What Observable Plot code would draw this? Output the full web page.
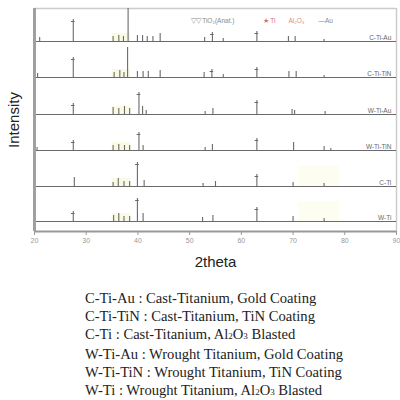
<!DOCTYPE html>
<html>
<head>
<meta charset="utf-8">
<script src="https://cdn.jsdelivr.net/npm/d3@7"></script>
<script src="https://cdn.jsdelivr.net/npm/@observablehq/plot@0.6"></script>
<style>
  body { margin: 0; background: #fff; }
  #chart { width: 400px; }
  #caption { font-family: "Liberation Serif", "DejaVu Serif", serif; font-size: 14.6px; line-height: 18px; color: #222; padding-left: 85px; margin-top: 14px; }
  #caption .s { font-size: 9px; }
</style>
</head>
<body>
<div id="chart"></div>
<div id="caption">
  <div>C-Ti-Au : Cast-Titanium, Gold Coating</div>
  <div>C-Ti-TiN : Cast-Titanium, TiN Coating</div>
  <div>C-Ti : Cast-Titanium, Al<span class="s">2</span>O<span class="s">3</span> Blasted</div>
  <div>W-Ti-Au : Wrought Titanium, Gold Coating</div>
  <div>W-Ti-TiN : Wrought Titanium, TiN Coating</div>
  <div>W-Ti : Wrought Titanium, Al<span class="s">2</span>O<span class="s">3</span> Blasted</div>
</div>
<script>
// Patterns, top to bottom
const series = ["C-Ti-Au", "C-Ti-TiN", "W-Ti-Au", "W-Ti-TiN", "C-Ti", "W-Ti"];
const offsets = [190, 154, 117, 81, 45, 10];
const xTicks = [20, 30, 40, 50, 60, 70, 80, 90];
// peaks: [2theta, intensity, marked]
const peaks0 = [[21.0,4],[27.5,22,1],[35.2,5],[36.3,6],[37.2,5],[38.1,33],[39.9,6],[40.9,6],[41.8,5],[42.9,5],[44.3,8],[52.9,4],[54.4,9,1],[56.5,3],[63.0,10,1],[69.1,5],[70.4,5],[76.0,2]];
const peaks1 = [[20.6,4],[27.5,20,1],[35.4,5],[36.5,7],[37.3,5],[38.0,30],[39.9,6],[41.0,6],[42.0,6],[44.3,7],[52.8,5],[54.3,8,1],[56.5,3],[63.0,10,1],[69.2,6],[70.6,6],[76.0,2]];
const peaks2 = [[27.5,11,1],[35.2,7],[36.3,6],[37.4,8],[38.4,6],[40.2,22,1],[40.9,8],[41.6,4],[53.0,3],[54.5,6],[63.0,14,1],[69.8,5],[70.3,4],[76.2,3]];
const peaks3 = [[20.5,3],[27.5,10,1],[35.2,5],[36.3,6],[37.4,5],[38.4,5],[40.2,18,1],[41.0,5],[53.0,3],[54.4,6],[63.0,12,1],[70.1,8],[76.0,4],[77.3,2]];
const peaks4 = [[27.7,9],[35.2,4],[36.2,8],[37.3,5],[38.4,5],[39.9,24,1],[41.2,6],[52.6,3],[55.0,5],[63.0,12,1],[70.0,4],[76.0,3]];
const peaks5 = [[27.5,10,1],[35.3,6],[36.3,8],[37.3,5],[38.4,5],[39.9,23,1],[41.0,8],[52.5,4],[54.5,6],[63.0,14,1],[70.0,5],[76.0,3]];
const allPeaks = [peaks0, peaks1, peaks2, peaks3, peaks4, peaks5];
const legendItems = ["▽▽ TiO₂(Anat.)", "★ Ti", "Al₂O₃", "—Au"];
const legendColors = ["#8a8a8a", "#d07070", "#e09070", "#8a8a8a"];
const legendDx = [156, 228, 254, 284];

const rows = [];
allPeaks.forEach((ps, i) => ps.forEach(([x, h, m]) => rows.push({s: series[i], x, base: offsets[i], top: offsets[i] + h, m: !!m})));
const bases = series.map((s, i) => ({s, base: offsets[i]}));
const marked = rows.filter(d => d.m);
const line = "#6a6a6a";

const chart = Plot.plot({
  width: 400, height: 275,
  marginLeft: 34, marginRight: 4, marginTop: 8, marginBottom: 44,
  x: {domain: [20, 90]},
  y: {domain: [0, 223], axis: null},
  style: {fontFamily: "'Liberation Sans', Arial, sans-serif", background: "#fff"},
  marks: [
    Plot.rect(bases, {x1: 35, x2: 38.6, y1: d => d.base, y2: d => d.base + 8, fill: "#fafae4"}),
    Plot.rect(bases.slice(4), {x1: 71, x2: 79, y1: d => d.base, y2: d => d.base + 20, fill: "#fdfdf2"}),
    Plot.ruleY([223], {stroke: "#cccccc", strokeWidth: 1.5}),
    Plot.ruleX([90], {stroke: "#cccccc", strokeWidth: 1.5}),
    Plot.ruleY(bases, {y: "base", x1: 20, x2: 90, stroke: line, strokeWidth: 1.1}),
    Plot.ruleX(rows, {x: "x", y1: "base", y2: "top", stroke: line, strokeWidth: 1.1, clip: true}),
    Plot.ruleY(marked, {y: d => d.top - 2, x1: d => d.x - 0.35, x2: d => d.x + 0.35, stroke: line, strokeWidth: 1}),
    Plot.text(bases, {x: 89, y: d => d.base + 4, text: "s", textAnchor: "end", fontSize: 6.5, fill: "#666"}),
    ...legendItems.map((t, i) => Plot.text([t], {frameAnchor: "top-left", dx: legendDx[i], dy: 10, textAnchor: "start", fontSize: 6.5, fill: legendColors[i]})),
    Plot.ruleY([0], {stroke: "#999", strokeWidth: 2}),
    Plot.ruleX([20], {stroke: "#a0a0a0", strokeWidth: 3}),
    Plot.axisX({ticks: xTicks, tickSize: 4, tickPadding: 3, fontSize: 7, color: "#999", label: null}),
    Plot.text(["2theta"], {frameAnchor: "bottom", dy: 31, lineAnchor: "middle", textAnchor: "middle", fontSize: 15, fill: "#222"}),
    Plot.text(["Intensity"], {frameAnchor: "left", dx: -20, rotate: -90, lineAnchor: "middle", textAnchor: "middle", fontSize: 15, fill: "#222"})
  ]
});
document.getElementById("chart").appendChild(chart);
</script>
</body>
</html>
